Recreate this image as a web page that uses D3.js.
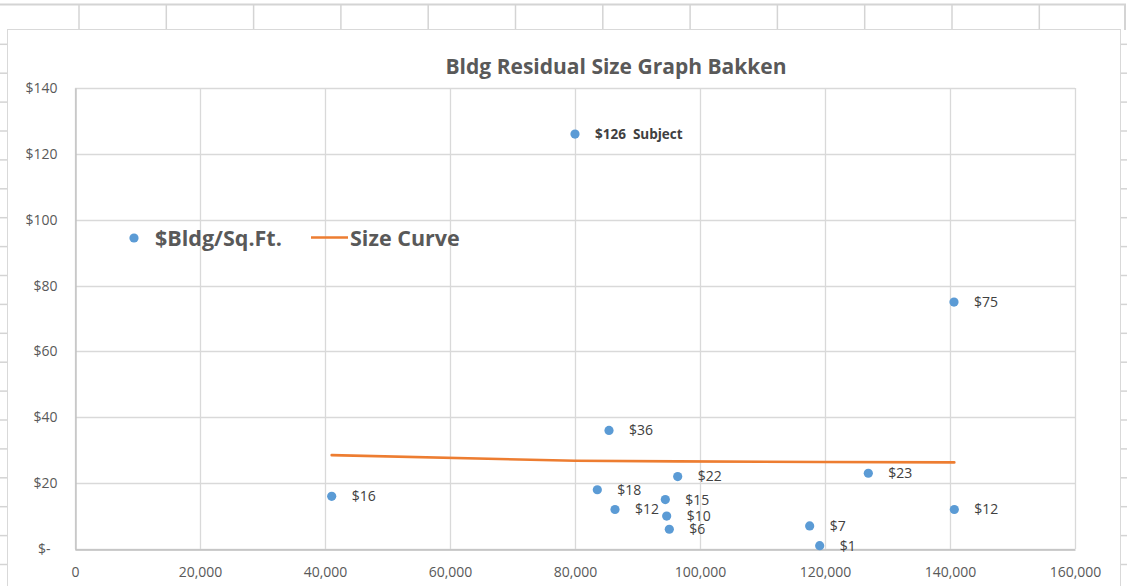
<!DOCTYPE html>
<html>
<head>
<meta charset="utf-8">
<script src="https://cdn.jsdelivr.net/npm/d3@7"></script>
<style>
  html, body { margin: 0; padding: 0; background: #fff; }
  svg { display: block; }
  text { font-family: "Open Sans", Lato, sans-serif; }
</style>
</head>
<body>
<svg id="chart" width="1129" height="586"></svg>
<script>
// Building size (sq.ft.) and residual building value per sq.ft.
const bldgSize    = [80000, 140640, 85440, 96430, 83570, 86400, 94450, 94670, 95090, 117550, 119150, 126930, 140690, 41070];
const bldgPerSqFt = [126,   75,     36,    22,    18,    12,    15,    10,    6,     7,      1,      23,     12,     16];
const pointNote   = ["Subject", "", "", "", "", "", "", "", "", "", "", "", "", ""];

// Fitted size curve
const curveSize  = [41070, 80000, 96430, 119150, 140690];
const curveValue = [28.5, 26.8, 26.6, 26.4, 26.3];

// Axis ticks
const xTicks = [0, 20000, 40000, 60000, 80000, 100000, 120000, 140000, 160000];
const yTicks = [0, 20, 40, 60, 80, 100, 120, 140];

const chartTitle = "Bldg Residual Size Graph Bakken";
const seriesNames = ["$Bldg/Sq.Ft.", "Size Curve"];

const svg = d3.select("#chart");

// ---- worksheet grid behind the chart ----
const sheet = svg.append("g").attr("stroke", "#d4d4d4").attr("fill", "none");
sheet.append("line").attr("x1", 0).attr("x2", 1126).attr("y1", 4.5).attr("y2", 4.5).attr("stroke-width", 2);
d3.range(12).forEach(k => {
  const cx = 79 + 87.3 * k;
  sheet.append("line").attr("x1", cx).attr("x2", cx).attr("y1", 5).attr("y2", 29).attr("stroke-width", 1.5);
});
sheet.append("line").attr("x1", 1125).attr("x2", 1125).attr("y1", 4).attr("y2", 30).attr("stroke-width", 2);
d3.range(19).forEach(k => {
  const ry = 44.3 + 28.9 * k;
  sheet.append("line").attr("x1", 0).attr("x2", 7).attr("y1", ry).attr("y2", ry).attr("stroke-width", 1.5);
  sheet.append("line").attr("x1", 1121).attr("x2", 1127).attr("y1", ry).attr("y2", ry).attr("stroke-width", 1.5);
});

// ---- chart area ----
svg.append("rect")
  .attr("x", 7.5).attr("y", 29.5).attr("width", 1113).attr("height", 570)
  .attr("fill", "#fff").attr("stroke", "#d9d9d9").attr("stroke-width", 1);

const x = d3.scaleLinear().domain([0, 160000]).range([75, 1075]);
const y = d3.scaleLinear().domain([0, 140]).range([549, 88]);

// gridlines
const grid = svg.append("g");
grid.selectAll("line.h").data(yTicks).join("line")
  .attr("x1", x(0)).attr("x2", x(160000))
  .attr("y1", d => Math.round(y(d)) + 0.5).attr("y2", d => Math.round(y(d)) + 0.5)
  .attr("stroke", "#d9d9d9").attr("stroke-width", 1.3);
grid.selectAll("line.v").data(xTicks).join("line")
  .attr("x1", d => Math.round(x(d)) + 0.5).attr("x2", d => Math.round(x(d)) + 0.5)
  .attr("y1", y(140)).attr("y2", y(0))
  .attr("stroke", "#d9d9d9").attr("stroke-width", 1.3);

// axes
const xAxis = svg.append("g")
  .attr("transform", `translate(0,${Math.round(y(0)) + 0.5})`)
  .call(d3.axisBottom(x).tickValues(xTicks).tickSize(0).tickFormat(d3.format(",")));
xAxis.select(".domain").attr("stroke", "#bfbfbf").attr("stroke-width", 1.3);
xAxis.selectAll("text")
  .attr("y", 23).attr("dy", "0.32em")
  .attr("fill", "#595959").style("font-size", "14px");

const yAxis = svg.append("g")
  .attr("transform", `translate(${Math.round(x(0)) + 0.5},0)`)
  .call(d3.axisLeft(y).tickValues(yTicks).tickSize(0).tickPadding(18)
    .tickFormat(d => d === 0 ? "$-" : "$" + d));
yAxis.select(".domain").attr("stroke", "#bfbfbf").attr("stroke-width", 1.3);
yAxis.selectAll("text")
  .attr("fill", "#595959").style("font-size", "14px")
  .attr("x", d => d === 0 ? -25 : -18);

// size curve
svg.append("path")
  .datum(curveSize.map((s, i) => [s, curveValue[i]]))
  .attr("fill", "none")
  .attr("stroke", "#ed7d31")
  .attr("stroke-width", 2.6)
  .attr("stroke-linecap", "round")
  .attr("d", d3.line().x(d => x(d[0])).y(d => y(d[1])));

// scatter points with value labels
const pts = bldgSize.map((s, i) => ({ s, v: bldgPerSqFt[i], note: pointNote[i] }));
svg.append("g").selectAll("circle").data(pts).join("circle")
  .attr("cx", d => x(d.s)).attr("cy", d => y(d.v)).attr("r", 4.6)
  .attr("fill", "#5b9bd5");

svg.append("g").selectAll("text").data(pts).join("text")
  .attr("x", d => x(d.s) + 20)
  .attr("y", d => y(d.v))
  .attr("dy", "0.35em")
  .attr("fill", "#404040")
  .style("font-size", d => d.note ? "13.5px" : "14px")
  .style("font-weight", d => d.note ? "bold" : "normal")
  .style("white-space", "pre")
  .text(d => "$" + d3.format(",.0f")(d.v) + (d.note ? "  " + d.note : ""));

// title
svg.append("text")
  .attr("x", 616).attr("y", 74)
  .attr("text-anchor", "middle")
  .attr("fill", "#595959")
  .style("font-size", "21px").style("font-weight", "bold")
  .text(chartTitle);

// legend
const lg = svg.append("g").attr("fill", "#595959").style("font-weight", "bold").style("font-size", "21.5px");
lg.append("circle").attr("cx", 134).attr("cy", 238).attr("r", 4.6).attr("fill", "#5b9bd5");
lg.append("text").attr("x", 155).attr("y", 238).attr("dy", "0.35em").text(seriesNames[0]);
lg.append("line").attr("x1", 311).attr("x2", 348).attr("y1", 237.5).attr("y2", 237.5)
  .attr("stroke", "#ed7d31").attr("stroke-width", 2.6);
lg.append("text").attr("x", 350).attr("y", 238).attr("dy", "0.35em").text(seriesNames[1]);
</script>
</body>
</html>
